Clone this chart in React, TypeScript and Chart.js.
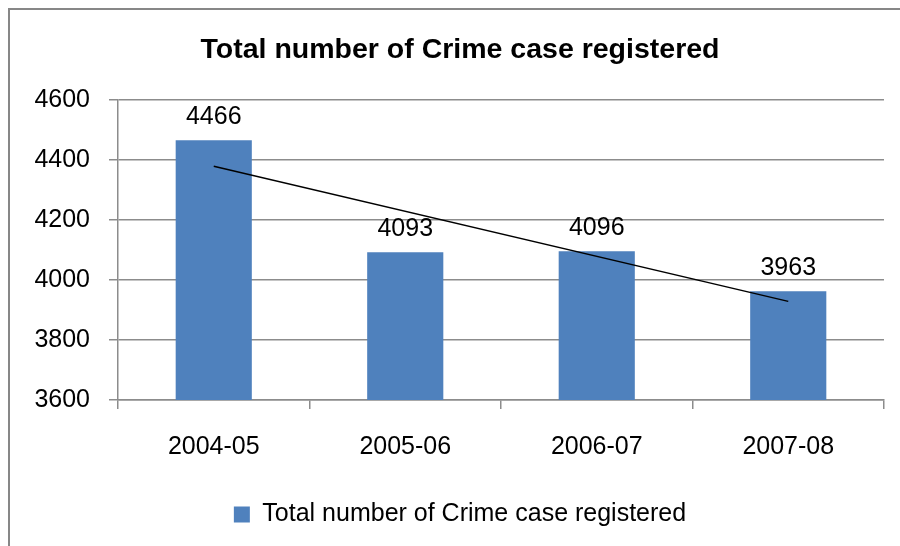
import React, { useEffect, useRef } from "react";
import { Chart, registerables } from "chart.js";

Chart.register(...registerables);

const categories = ["2004-05", "2005-06", "2006-07", "2007-08"];
const crimeCases = [4466, 4093, 4096, 3963];
// linear trendline end points (null = no point)
const trendValues = [4380, null, null, 3929];
const yTicks = [3600, 3800, 4000, 4200, 4400, 4600];
const titleText = "Total number of Crime case registered";
const seriesName = "Total number of Crime case registered";

const FONT = "'Liberation Sans', Arial, sans-serif";
const GRID = "#8c8c8c";

const frame = {
  id: "frame",
  beforeDraw(chart: any) {
    const ctx = chart.ctx;
    ctx.save();
    ctx.fillStyle = "#ffffff";
    ctx.fillRect(0, 0, chart.width, chart.height);
    ctx.strokeStyle = "#878787";
    ctx.lineWidth = 2;
    ctx.strokeRect(9, 9, chart.width + 50, chart.height + 50);
    ctx.restore();
  },
};

// let the y tick labels use the space left of the axis box (no clipping)
const unclipY = {
  id: "unclipY",
  afterLayout(chart: any) {
    if (chart.scales.y) chart.scales.y.left = 0;
  },
};

const dataLabels = {
  id: "dataLabels",
  afterDatasetsDraw(chart: any) {
    const ctx = chart.ctx;
    const meta = chart.getDatasetMeta(0);
    ctx.save();
    ctx.font = `25px ${FONT}`;
    ctx.fillStyle = "#000000";
    ctx.textAlign = "center";
    ctx.textBaseline = "alphabetic";
    meta.data.forEach((el: any, i: number) => {
      ctx.fillText(String(crimeCases[i]), el.x, el.y - 16);
    });
    ctx.restore();
  },
};

export default function App() {
  const ref = useRef<HTMLCanvasElement>(null);
  useEffect(() => {
    if (!ref.current) return;
    const chart = new Chart(ref.current, {
      type: "bar",
      data: {
        labels: categories,
        datasets: [
          {
            type: "bar",
            label: seriesName,
            data: crimeCases,
            backgroundColor: "#4F81BD",
            borderColor: "#4F81BD",
            borderWidth: 0,
            categoryPercentage: 0.8,
            barPercentage: 0.497,
            order: 2,
          },
          {
            type: "line",
            label: "trend",
            data: trendValues as any,
            borderColor: "#000000",
            borderWidth: 1.5,
            pointRadius: 0,
            spanGaps: true,
            fill: false,
            order: 1,
          },
        ],
      },
      options: {
        responsive: false,
        animation: false,
        events: [],
        layout: { padding: { left: 36, right: 16, top: 0, bottom: 9 } },
        plugins: {
          tooltip: { enabled: false },
          title: {
            display: true,
            text: titleText,
            color: "#000000",
            font: { family: FONT, size: 28.5, weight: "bold" },
            padding: { top: 33, bottom: 33 },
          },
          legend: {
            position: "bottom",
            labels: {
              filter: (item: any) => item.datasetIndex === 0,
              boxWidth: 16,
              boxHeight: 16,
              padding: 10,
              color: "#000000",
              font: { family: FONT, size: 25 },
            },
          },
        },
        scales: {
          x: {
            offset: true,
            grid: {
              offset: true,
              drawOnChartArea: false,
              drawTicks: true,
              tickLength: 9,
              color: GRID,
              lineWidth: 1.5,
            },
            border: { color: GRID, width: 1.5 },
            ticks: {
              color: "#000000",
              font: { family: FONT, size: 25 },
              padding: 23,
              maxRotation: 0,
            },
            afterFit: (s: any) => {
              s.height = 92;
            },
          },
          y: {
            min: 3600,
            max: 4600,
            afterBuildTicks: (s: any) => {
              s.ticks = yTicks.map((v) => ({ value: v }));
            },
            grid: {
              color: GRID,
              lineWidth: 1.5,
              tickLength: 9,
            },
            border: { color: GRID, width: 1.5 },
            ticks: {
              color: "#000000",
              font: { family: FONT, size: 25 },
              padding: 19,
              callback: (v: any) => String(v),
            },
            afterFit: (s: any) => {
              s.width = 82;
            },
          },
        },
      },
      plugins: [frame, unclipY, dataLabels],
    });
    return () => chart.destroy();
  }, []);
  return (
    <div style={{ position: "fixed", left: 0, top: 0, width: 900, height: 546 }}>
      <canvas ref={ref} width={900} height={546} style={{ display: "block" }} />
    </div>
  );
}
